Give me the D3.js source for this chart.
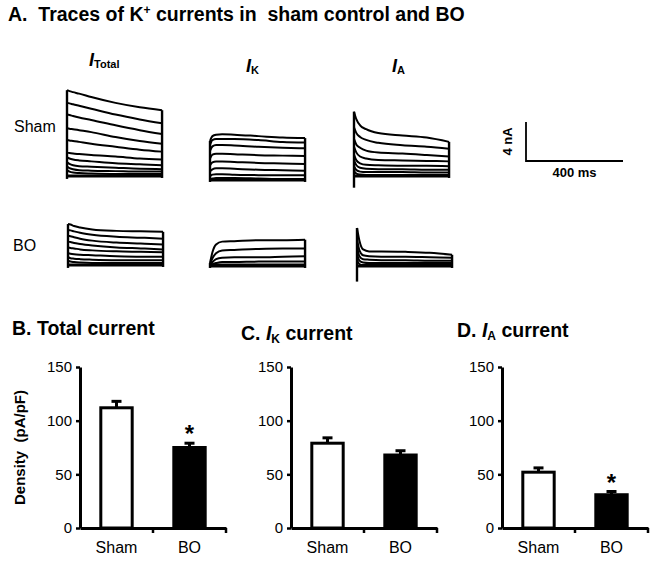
<!DOCTYPE html>
<html>
<head>
<meta charset="utf-8">
<script src="https://cdn.jsdelivr.net/npm/d3@7"></script>
<style>
  body { margin: 0; background: #fff; }
  svg { font-family: "Liberation Sans", Arial, sans-serif; }
  text { white-space: pre; }
</style>
</head>
<body>
<svg id="fig" width="653" height="564"></svg>
<script>
// sample times of every trace (ms)
var traceTimes = [0, 10, 25, 50, 100, 200, 300, 392];

// currents in nA, one row per voltage step
var shamTotal = [
  [8.8, 8.7, 8.6, 8.45, 8.1, 7.5, 7.05, 6.75],
  [7.5, 7.45, 7.35, 7.2, 6.9, 6.3, 5.8, 5.4],
  [6.3, 6.25, 6.15, 6.0, 5.75, 5.2, 4.7, 4.3],
  [4.9, 4.85, 4.8, 4.7, 4.5, 4.0, 3.6, 3.3],
  [3.7, 3.65, 3.6, 3.5, 3.3, 3.0, 2.7, 2.5],
  [2.4, 2.35, 2.3, 2.25, 2.15, 2.0, 1.8, 1.7],
  [1.9, 1.8, 1.7, 1.6, 1.5, 1.3, 1.2, 1.1],
  [1.4, 1.25, 1.1, 1.0, 0.95, 0.85, 0.75, 0.7],
  [1.0, 0.8, 0.7, 0.6, 0.55, 0.5, 0.45, 0.45],
  [0.6, 0.45, 0.35, 0.3, 0.25, 0.2, 0.2, 0.2],
  [0, 0, 0, 0, 0, 0, 0, 0]
];
var shamIK = [
  [4.0, 4.5, 4.65, 4.7, 4.65, 4.5, 4.35, 4.3],
  [3.6, 4.1, 4.2, 4.2, 4.2, 4.1, 3.9, 3.85],
  [3.0, 3.45, 3.6, 3.6, 3.55, 3.4, 3.3, 3.25],
  [2.2, 2.6, 2.7, 2.7, 2.65, 2.55, 2.5, 2.45],
  [1.5, 1.8, 1.9, 1.9, 1.85, 1.75, 1.7, 1.65],
  [0.9, 1.1, 1.2, 1.2, 1.15, 1.05, 1.0, 0.95],
  [0.4, 0.55, 0.6, 0.6, 0.55, 0.5, 0.5, 0.5],
  [0.1, 0.15, 0.2, 0.2, 0.2, 0.15, 0.1, 0.1],
  [0, 0, 0, 0, 0, 0, 0, 0]
];
var shamIA = [
  [6.6, 5.8, 5.2, 4.8, 4.4, 4.15, 3.95, 3.5],
  [5.0, 4.4, 4.0, 3.7, 3.4, 3.15, 3.0, 2.8],
  [3.8, 3.2, 2.9, 2.6, 2.4, 2.3, 2.15, 2.0],
  [3.0, 2.4, 2.0, 1.8, 1.65, 1.6, 1.55, 1.5],
  [2.2, 1.6, 1.3, 1.15, 1.1, 1.05, 1.05, 1.0],
  [1.6, 1.1, 0.85, 0.75, 0.7, 0.7, 0.65, 0.65],
  [1.0, 0.6, 0.45, 0.4, 0.4, 0.4, 0.35, 0.35],
  [0.5, 0.25, 0.15, 0.1, 0.1, 0.1, 0.1, 0.1],
  [0, 0, 0, 0, 0, 0, 0, 0]
];
var boTotal = [
  [4.2, 4.15, 4.0, 3.85, 3.65, 3.5, 3.45, 3.4],
  [3.6, 3.55, 3.45, 3.3, 3.1, 2.9, 2.8, 2.7],
  [3.0, 2.95, 2.85, 2.7, 2.5, 2.3, 2.2, 2.1],
  [2.4, 2.35, 2.25, 2.15, 2.0, 1.8, 1.7, 1.6],
  [1.8, 1.75, 1.7, 1.6, 1.5, 1.4, 1.35, 1.3],
  [1.2, 1.15, 1.1, 1.05, 1.0, 0.9, 0.85, 0.85],
  [0.8, 0.7, 0.65, 0.6, 0.55, 0.5, 0.5, 0.5],
  [0.45, 0.35, 0.3, 0.25, 0.2, 0.2, 0.2, 0.2],
  [0, 0, 0, 0, 0, 0, 0, 0]
];
var boIK = [
  [0.3, 1.4, 2.2, 2.5, 2.55, 2.65, 2.65, 2.7],
  [0.2, 0.8, 1.3, 1.6, 1.65, 1.75, 1.8, 1.8],
  [0.1, 0.4, 0.7, 0.85, 0.9, 0.9, 0.95, 1.0],
  [0.05, 0.2, 0.3, 0.4, 0.4, 0.45, 0.45, 0.45],
  [0, 0.1, 0.15, 0.15, 0.15, 0.15, 0.15, 0.15],
  [0, 0, 0, 0, 0, 0, 0, 0]
];
var boIA = [
  [3.9, 2.6, 1.7, 1.5, 1.5, 1.45, 1.35, 1.15],
  [2.8, 1.6, 1.1, 1.0, 0.95, 0.95, 0.9, 0.85],
  [2.0, 1.0, 0.7, 0.65, 0.6, 0.6, 0.55, 0.55],
  [1.2, 0.55, 0.35, 0.3, 0.3, 0.3, 0.3, 0.3],
  [0.6, 0.2, 0.1, 0.1, 0.1, 0.1, 0.1, 0.1],
  [0, 0, 0, 0, 0, 0, 0, 0]
];
// undershoot of the step transients (nA)
var stepUndershoot = { shamTotal: -0.3, shamIK: -0.2, shamIA: -1.2, boTotal: -0.3, boIK: -0.2, boIA: -1.6 };

// bar charts (pA/pF)
var categories = ["Sham", "BO"];
var totalMean = [112, 75], totalSem = [6, 4], totalSig = [false, true];
var ikMean = [79, 68], ikSem = [5, 4], ikSig = [false, false];
var iaMean = [52, 31], iaSem = [4, 3], iaSig = [false, true];
var densityTicks = [0, 50, 100, 150];

var svg = d3.select("#fig");
var black = "#000";

// ---------- panel A ----------
var title = svg.append("text").attr("x", 8).attr("y", 21)
    .attr("font-size", 19.5).attr("font-weight", "bold");
title.append("tspan").text("A.  Traces of K");
title.append("tspan").attr("font-size", 12).attr("dy", -7).text("+");
title.append("tspan").attr("dy", 7).text(" currents in  sham control and BO");

function header(x, y, sub, subDy) {
  var t = svg.append("text").attr("x", x).attr("y", y).attr("font-weight", "bold");
  t.append("tspan").attr("font-size", 18).attr("font-style", "italic").text("I");
  t.append("tspan").attr("font-size", 11).attr("dy", subDy).text(sub);
}
header(89, 66, "Total", 2);
header(246, 72, "K", 2);
header(392, 72, "A", 2);

svg.append("text").attr("x", 14).attr("y", 132).attr("font-size", 16).text("Sham");
svg.append("text").attr("x", 13).attr("y", 251).attr("font-size", 16).text("BO");

var tx = d3.scaleLinear().domain([0, 400]).range([0, 97]);
var cy = d3.scaleLinear().domain([0, 4]).range([0, -39]);

var families = [
  { data: shamTotal, key: "shamTotal", x0: 67, y0: 176 },
  { data: shamIK, key: "shamIK", x0: 210, y0: 180 },
  { data: shamIA, key: "shamIA", x0: 354, y0: 176 },
  { data: boTotal, key: "boTotal", x0: 68, y0: 265 },
  { data: boIK, key: "boIK", x0: 210, y0: 266 },
  { data: boIA, key: "boIA", x0: 357, y0: 266 }
];

var traceLine = d3.line()
    .x(function(d, i) { return tx(traceTimes[i]); })
    .y(function(d) { return cy(d); })
    .curve(d3.curveMonotoneX);

families.forEach(function(f) {
  var g = svg.append("g").attr("transform", "translate(" + f.x0 + "," + f.y0 + ")");
  g.selectAll("path.trace").data(f.data).enter().append("path")
      .attr("class", "trace")
      .attr("d", traceLine)
      .attr("fill", "none").attr("stroke", black).attr("stroke-width", 2);
  var tEnd = traceTimes[traceTimes.length - 1];
  var startMax = d3.max(f.data, function(r) { return r[0]; });
  var endMax = d3.max(f.data, function(r) { return r[r.length - 1]; });
  g.append("line").attr("x1", tx(0)).attr("x2", tx(0))
      .attr("y1", cy(stepUndershoot[f.key])).attr("y2", cy(startMax))
      .attr("stroke", black).attr("stroke-width", 2.4);
  g.append("line").attr("x1", tx(tEnd)).attr("x2", tx(tEnd))
      .attr("y1", cy(-0.2)).attr("y2", cy(endMax))
      .attr("stroke", black).attr("stroke-width", 2.4);
  // thick baseline
  g.append("line").attr("x1", tx(0)).attr("x2", tx(tEnd))
      .attr("y1", cy(0)).attr("y2", cy(0))
      .attr("stroke", black).attr("stroke-width", 3);
});

// scale bar
var sb = svg.append("g").attr("transform", "translate(526,161)");
sb.append("path")
    .attr("d", "M0," + cy(4) + "V0H" + tx(400))
    .attr("fill", "none").attr("stroke", black).attr("stroke-width", 1.8);
sb.append("text").attr("transform", "translate(-14," + (cy(4) / 2) + ") rotate(-90)")
    .attr("text-anchor", "middle").attr("font-size", 13).attr("font-weight", "bold")
    .text("4 nA");
sb.append("text").attr("x", tx(200)).attr("y", 16)
    .attr("text-anchor", "middle").attr("font-size", 13).attr("font-weight", "bold")
    .text("400 ms");

// ---------- panels B, C, D ----------
var panels = [
  { title: ["B. Total current"], mean: totalMean, sem: totalSem, sig: totalSig, left: 80, ty: 335, tx: 12 },
  { title: ["C. ", "I", "K", " current"], mean: ikMean, sem: ikSem, sig: ikSig, left: 291, ty: 340, tx: 241 },
  { title: ["D. ", "I", "A", " current"], mean: iaMean, sem: iaSem, sig: iaSig, left: 502, ty: 337, tx: 457 }
];

var y = d3.scaleLinear().domain([0, 150]).range([528, 367]);
var axisW = 146;

panels.forEach(function(p, pi) {
  var t = svg.append("text").attr("x", p.tx).attr("y", p.ty)
      .attr("font-size", 19.5).attr("font-weight", "bold");
  if (p.title.length === 1) {
    t.text(p.title[0]);
  } else {
    t.append("tspan").text(p.title[0]);
    t.append("tspan").attr("font-style", "italic").text(p.title[1]);
    t.append("tspan").attr("font-size", 12).attr("dy", 3).text(p.title[2]);
    t.append("tspan").attr("dy", -3).text(p.title[3]);
  }

  var x = d3.scaleBand().domain(categories).range([p.left, p.left + axisW]);
  var bw = x.bandwidth() * 0.43;
  var g = svg.append("g");

  // bars
  g.selectAll("rect.bar").data(categories).enter().append("rect")
      .attr("class", "bar")
      .attr("x", function(d) { return x(d) + (x.bandwidth() - bw) / 2; })
      .attr("y", function(d, i) { return y(p.mean[i]); })
      .attr("width", bw)
      .attr("height", function(d, i) { return y(0) - y(p.mean[i]); })
      .attr("fill", function(d, i) { return i === 0 ? "#fff" : black; })
      .attr("stroke", black).attr("stroke-width", 3);

  // error bars (upper half)
  categories.forEach(function(c, i) {
    var cx = x(c) + x.bandwidth() / 2;
    var top = y(p.mean[i] + p.sem[i]);
    g.append("line").attr("x1", cx).attr("x2", cx)
        .attr("y1", y(p.mean[i])).attr("y2", top)
        .attr("stroke", black).attr("stroke-width", 3);
    g.append("line").attr("x1", cx - 5).attr("x2", cx + 5)
        .attr("y1", top).attr("y2", top)
        .attr("stroke", black).attr("stroke-width", 3);
    if (p.sig[i]) {
      g.append("text").attr("x", cx).attr("y", top - 1)
          .attr("text-anchor", "middle").attr("font-size", 24).attr("font-weight", "bold")
          .text("*");
    }
  });

  // y axis
  var ya = svg.append("g").attr("transform", "translate(" + p.left + ",0)")
      .call(d3.axisLeft(y).tickValues(densityTicks).tickSize(4).tickSizeOuter(0).tickPadding(4));
  ya.select(".domain").attr("stroke-width", 3);
  ya.selectAll(".tick line").attr("stroke-width", 2.5);
  ya.selectAll(".tick text").attr("font-size", 15).attr("font-family", null).attr("fill", black);

  // x axis
  var xa = svg.append("g").attr("transform", "translate(0," + y(0) + ")")
      .call(d3.axisBottom(x).tickSize(0).tickPadding(14));
  xa.select(".domain").attr("stroke-width", 3);
  xa.selectAll(".tick text").attr("font-size", 16).attr("font-family", null).attr("fill", black);
  // category boundary ticks
  var bounds = [x(categories[1]), p.left + axisW];
  xa.selectAll("line.bound").data(bounds).enter().append("line")
      .attr("class", "bound")
      .attr("x1", function(d) { return d; }).attr("x2", function(d) { return d; })
      .attr("y1", 0).attr("y2", 5)
      .attr("stroke", black).attr("stroke-width", 2.5);

  if (pi === 0) {
    svg.append("text")
        .attr("transform", "translate(25," + y(75) + ") rotate(-90)")
        .attr("text-anchor", "middle").attr("font-size", 15).attr("font-weight", "bold")
        .text("Density  (pA/pF)");
  }
});
</script>
</body>
</html>
